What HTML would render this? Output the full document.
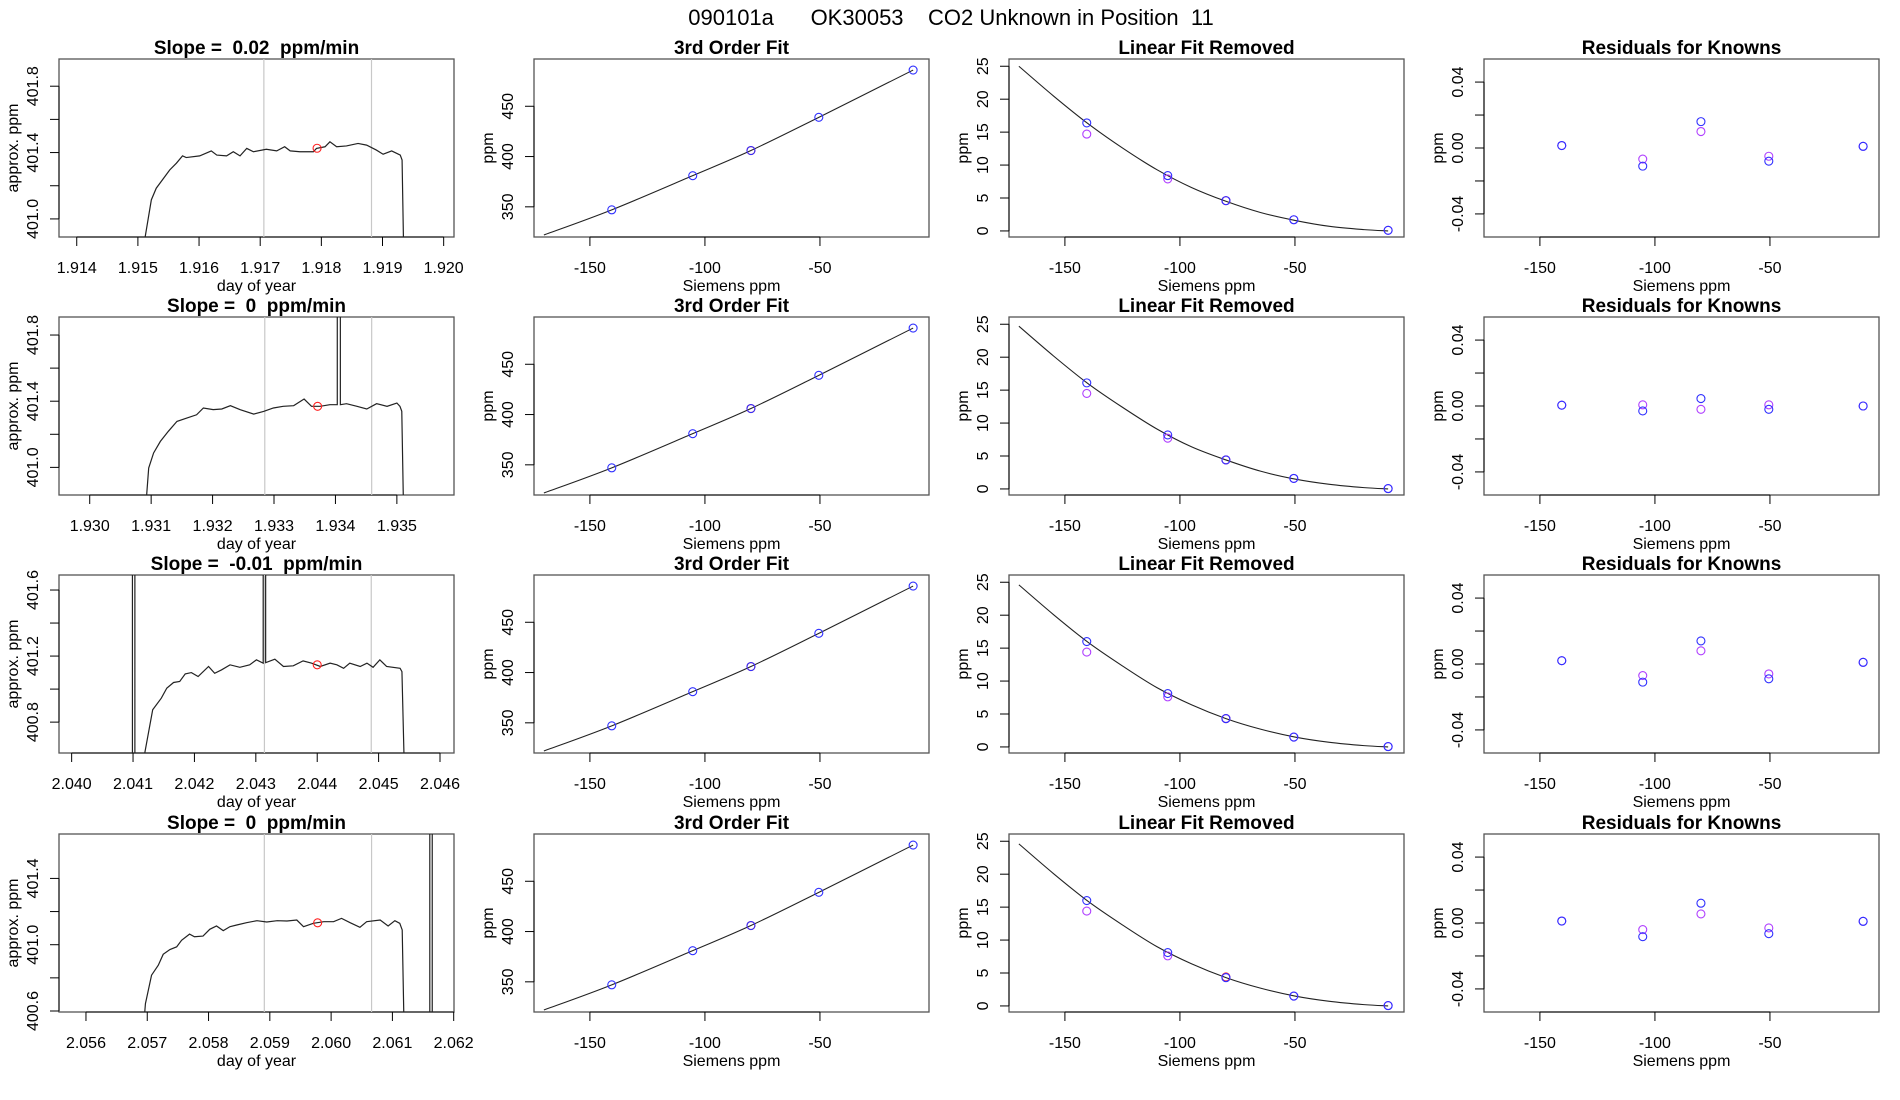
<!DOCTYPE html>
<html><head><meta charset="utf-8"><title>090101a OK30053 CO2 Unknown in Position 11</title>
<style>
html,body{margin:0;padding:0;background:#fff;}
svg{display:block;font-family:"Liberation Sans",Arial,sans-serif;}
text{white-space:pre;}
</style></head>
<body>
<svg id="fig" width="1900" height="1100" viewBox="0 0 1900 1100" xmlns="http://www.w3.org/2000/svg">
<text x="951" y="25" text-anchor="middle" font-size="22">090101a      OK30053    CO2 Unknown in Position  11</text>
</svg>
<script>
// ---------- data ----------
const slopeTitles = ["Slope =  0.02  ppm/min","Slope =  0  ppm/min","Slope =  -0.01  ppm/min","Slope =  0  ppm/min"];
const ts1Days = [1.91510,1.91522,1.91530,1.91552,1.91563,1.91573,1.91579,1.91601,1.91620,1.91629,1.91645,1.91656,1.91667,1.91678,1.91689,1.91710,1.91727,1.91740,1.91749,1.91765,1.91787,1.91792,1.91806,1.91814,1.91825,1.91841,1.91860,1.91874,1.91890,1.91901,1.91915,1.91929,1.91932,1.91936];
const ts1Ppm = [400.85,401.115,401.185,401.295,401.336,401.38,401.37,401.38,401.41,401.385,401.38,401.405,401.38,401.425,401.405,401.42,401.41,401.435,401.41,401.405,401.405,401.425,401.435,401.465,401.435,401.44,401.455,401.445,401.415,401.39,401.41,401.385,401.355,400.5];
const ts2Days = [1.93090,1.93096,1.93104,1.93115,1.93128,1.93142,1.93158,1.93174,1.93185,1.93201,1.93215,1.93229,1.93245,1.93267,1.93283,1.93299,1.93315,1.93332,1.93349,1.93361,1.93375,1.93391,1.93403,1.93403,1.93408,1.93408,1.93418,1.93435,1.93451,1.93467,1.93484,1.93500,1.93505,1.93508,1.93512];
const ts2Ppm = [400.7,400.996,401.087,401.157,401.218,401.278,401.298,401.318,401.359,401.349,401.353,401.373,401.349,401.322,401.338,401.359,401.369,401.373,401.413,401.369,401.369,401.379,401.379,402.5,402.5,401.379,401.385,401.369,401.353,401.385,401.369,401.389,401.369,401.339,400.5];
const ts3Days = [2.03979,2.04099,2.04099,2.04103,2.04103,2.04116,2.04132,2.04146,2.04155,2.04166,2.04176,2.04185,2.04195,2.04206,2.04223,2.04233,2.04244,2.04258,2.04274,2.04290,2.04301,2.04312,2.04312,2.04316,2.04316,2.04331,2.04345,2.04361,2.04377,2.04391,2.04405,2.04421,2.04432,2.04443,2.04453,2.04470,2.04481,2.04491,2.04502,2.04513,2.04535,2.04538,2.04542];
const ts3Ppm = [400.5,400.5,402.5,402.5,400.5,400.55,400.875,400.945,401.006,401.040,401.046,401.092,401.100,401.076,401.137,401.096,401.116,401.147,401.132,401.147,401.177,401.157,402.5,402.5,401.16,401.181,401.137,401.141,401.171,401.157,401.137,401.157,401.147,401.126,401.157,401.137,401.157,401.132,401.177,401.137,401.126,401.106,400.5];
const ts4Days = [2.05695,2.05697,2.05707,2.05718,2.05726,2.05737,2.05748,2.05756,2.05769,2.05777,2.05791,2.05802,2.05813,2.05824,2.05835,2.05846,2.05862,2.05879,2.05895,2.05912,2.05928,2.05944,2.05955,2.05971,2.05988,2.06004,2.06017,2.06031,2.06047,2.06058,2.06080,2.06093,2.06104,2.06112,2.06116,2.06119,2.06161,2.06161,2.06165,2.06165];
const ts4Ppm = [400.55,400.644,400.816,400.876,400.942,400.971,400.987,401.027,401.064,401.048,401.052,401.093,401.113,401.085,401.109,401.119,401.133,401.145,401.137,401.145,401.143,401.149,401.109,401.129,401.139,401.139,401.159,401.133,401.105,401.139,401.149,401.113,401.145,401.129,401.089,400.5,400.5,402.5,402.5,400.5];
const tsDays = [ts1Days,ts2Days,ts3Days,ts4Days];
const tsPpm = [ts1Ppm,ts2Ppm,ts3Ppm,ts4Ppm];
const unkDay = [1.91793,1.93371,2.04400,2.05978];
const unkPpm = [401.426,401.369,401.147,401.132];
const windowStart = [1.91706,1.93285,2.04314,2.05891];
const windowEnd = [1.91882,1.93459,2.04488,2.06066];
const tsXlim = [[1.91371,1.920169],[1.9295,1.93593],[2.039794,2.046228],[2.05556,2.062005]];
const tsYlim = [[400.891,401.964],[400.833,401.909],[400.613,401.691],[400.594,401.668]];
const tsXticks = [[1.914,1.915,1.916,1.917,1.918,1.919,1.920],[1.930,1.931,1.932,1.933,1.934,1.935],[2.040,2.041,2.042,2.043,2.044,2.045,2.046],[2.056,2.057,2.058,2.059,2.060,2.061,2.062]];
const tsYticks = [[401.0,401.2,401.4,401.6,401.8],[401.0,401.2,401.4,401.6,401.8],[400.8,401.0,401.2,401.4,401.6],[400.6,400.8,401.0,401.2,401.4]];
const tsYlabels = [["401.0","","401.4","","401.8"],["401.0","","401.4","","401.8"],["400.8","","401.2","","401.6"],["400.6","","401.0","","401.4"]];

const knownX = [-140.5,-105.3,-80,-50.5,-9.5];
const fitCurveX = [-170,-140.5,-105.3,-80,-50.5,-9.5];
const fitCurvePpm = [322,347,381,406,439,486];
const knownPpm = [347,381,406,439,486];
const unknownX = -80;
const unknownPpm = 406;
const linRemCurveX = [-170,-155,-140,-125,-110,-95,-80,-65,-50,-35,-20,-9.5];
const linRemCurveRows = [
 [25,20.5,16.3,12.6,9.3,6.6,4.5,2.8,1.6,0.7,0.2,0],
 [24.7,20.2,16.0,12.4,9.1,6.4,4.4,2.7,1.5,0.7,0.2,0],
 [24.6,20.1,15.9,12.3,9.0,6.4,4.3,2.7,1.5,0.7,0.2,0],
 [24.6,20.1,15.9,12.3,9.0,6.4,4.3,2.7,1.5,0.7,0.2,0]];
const linRemBlue = [[16.4,8.4,4.6,1.7,0.1],[16.1,8.2,4.4,1.6,0.05],[16.0,8.1,4.3,1.5,0.05],[16.0,8.1,4.3,1.5,0.05]];
const linRemPurple = [[14.7,7.9,4.6,1.7,0.1],[14.5,7.7,4.4,1.6,0.05],[14.4,7.6,4.3,1.5,0.05],[14.4,7.6,4.3,1.5,0.05]];
const linRemUnknown = [4.6,4.4,4.3,4.4];
const residBlue = [[0.0015,-0.011,0.016,-0.008,0.001],[0.0005,-0.003,0.0045,-0.002,0],[0.002,-0.011,0.014,-0.009,0.001],[0.0012,-0.0083,0.012,-0.0065,0.001]];
const residPurple = [[0.0015,-0.0067,0.010,-0.005,0.001],[0.0005,0.0007,-0.002,0.0007,0],[0.002,-0.007,0.008,-0.006,0.001],[0.0012,-0.004,0.0055,-0.003,0.001]];
const sieXlim = [-174.3,-2.6];
const sieXticks = [-150,-100,-50];
const fitYlim = [320,497];
const fitYticks = [350,400,450];
const remYlim = [-0.92,26.1];
const remYticks = [0,5,10,15,20,25];
const resYlim = [-0.054,0.054];
const resYticks = [-0.04,-0.02,0,0.02,0.04];
const resYlabels = ["-0.04","","0.00","","0.04"];

// ---------- layout ----------
const colX = [59,534,1009,1484];
const rowY = [59,317,575,834];
const PW = 395, PH = 178;
const NS = "http://www.w3.org/2000/svg";
const svg = document.getElementById('fig');
function mk(tag, attrs, parent){
  const e = document.createElementNS(NS, tag);
  for (const k in attrs) e.setAttribute(k, attrs[k]);
  (parent||svg).appendChild(e);
  return e;
}
function scale(d, r){ return v => r[0] + (v-d[0])/(d[1]-d[0])*(r[1]-r[0]); }
const BLUE="#3030ff", PURPLE="#b040ff", RED="#ff2020";

function panel(ci, ri, title, xlim, ylim, xticks, xlabs, yticks, ylabs, xtitle, ytitle, name){
  const x0=colX[ci], y0=rowY[ri];
  const g = mk('g',{});
  
  
  const sx = scale(xlim,[x0,x0+PW]);
  const sy = scale(ylim,[y0+PH,y0]);
  const cid = 'clip-'+ci+'-'+ri;
  const cp = mk('clipPath',{id:cid}, g);
  mk('rect',{x:x0,y:y0,width:PW,height:PH}, cp);
  const box = mk('rect',{x:x0,y:y0,width:PW,height:PH,fill:'none',stroke:'#555','stroke-width':1.3}, g);
  
  
  const t = mk('text',{x:x0+PW/2,y:y0-5,'text-anchor':'middle','font-size':19,'font-weight':'bold'}, g);
  t.textContent = title;
  
  
  const xa = mk('g',{}, g);
  
  
  const xs = sx(xticks[0]), xe = sx(xticks[xticks.length-1]);
  mk('line',{x1:xs,x2:xe,y1:y0+PH,y2:y0+PH,stroke:'#000'}, xa);
  xticks.forEach((v,i)=>{
    const X = sx(v);
    mk('line',{x1:X,x2:X,y1:y0+PH,y2:y0+PH+9,stroke:'#000'}, xa);
    const tl = mk('text',{x:X,y:y0+PH+36,'text-anchor':'middle','font-size':16}, xa);
    tl.textContent = xlabs[i];
    
    
  });
  const xt = mk('text',{x:x0+PW/2,y:y0+PH+54,'text-anchor':'middle','font-size':16}, g);
  xt.textContent = xtitle;
  
  
  const ya = mk('g',{}, g);
  
  
  mk('line',{x1:x0,x2:x0,y1:sy(yticks[0]),y2:sy(yticks[yticks.length-1]),stroke:'#000'}, ya);
  yticks.forEach((v,i)=>{
    const Y = sy(v);
    mk('line',{x1:x0,x2:x0-9,y1:Y,y2:Y,stroke:'#000'}, ya);
    if (ylabs[i]) {
      const tl = mk('text',{x:x0-21,y:Y,'text-anchor':'middle','font-size':16,transform:`rotate(-90 ${x0-21} ${Y})`}, ya);
      tl.textContent = ylabs[i];
      
      
    }
  });
  const yt = mk('text',{x:x0-41,y:y0+PH/2,'text-anchor':'middle','font-size':16,transform:`rotate(-90 ${x0-41} ${y0+PH/2})`}, g);
  yt.textContent = ytitle;
  
  
  const data = mk('g',{'clip-path':`url(#${cid})`}, g);
  return {sx, sy, data};
}
function circ(p, x, y, color, name){
  const c = mk('circle',{cx:x,cy:y,r:4,fill:'none',stroke:color,'stroke-width':1.1}, p);
  
  
}
function smoothPath(pts){
  let d = `M${pts[0][0]},${pts[0][1]}`;
  for (let i=0;i<pts.length-1;i++){
    const p0=pts[Math.max(0,i-1)], p1=pts[i], p2=pts[i+1], p3=pts[Math.min(pts.length-1,i+2)];
    const c1=[p1[0]+(p2[0]-p0[0])/6, p1[1]+(p2[1]-p0[1])/6];
    const c2=[p2[0]-(p3[0]-p1[0])/6, p2[1]-(p3[1]-p1[1])/6];
    d += ` C${c1[0]},${c1[1]} ${c2[0]},${c2[1]} ${p2[0]},${p2[1]}`;
  }
  return d;
}
const sieLabs = sieXticks.map(String);

for (let r=0;r<4;r++){
  const xl = tsXticks[r].map(v=>v.toFixed(3));
  const p1 = panel(0,r,slopeTitles[r],tsXlim[r],tsYlim[r],tsXticks[r],xl,tsYticks[r],tsYlabels[r],'day of year','approx. ppm','timeseries-panel-'+(r+1));
  [windowStart[r],windowEnd[r]].forEach(v=>{
    const l = mk('line',{x1:p1.sx(v),x2:p1.sx(v),y1:rowY[r],y2:rowY[r]+PH,stroke:'#c8c8c8','stroke-width':1.2}, p1.data);
    
    
  });
  const pts = tsDays[r].map((d,i)=>`${p1.sx(d).toFixed(2)},${p1.sy(tsPpm[r][i]).toFixed(2)}`).join(' ');
  const pl = mk('polyline',{points:pts,fill:'none',stroke:'#222','stroke-width':1.2}, p1.data);
  
  
  circ(p1.data, p1.sx(unkDay[r]), p1.sy(unkPpm[r]), RED, 'unknown-mean-point');

  const p2 = panel(1,r,'3rd Order Fit',sieXlim,fitYlim,sieXticks,sieLabs,fitYticks,fitYticks.map(String),'Siemens ppm','ppm','fit-panel-'+(r+1));
  const fp = mk('path',{d:smoothPath(fitCurveX.map((x,i)=>[p2.sx(x),p2.sy(fitCurvePpm[i])])),fill:'none',stroke:'#222','stroke-width':1.1}, p2.data);
  
  
  circ(p2.data,p2.sx(unknownX),p2.sy(unknownPpm),RED,'unknown-point');
  knownX.forEach((x,i)=>circ(p2.data,p2.sx(x),p2.sy(knownPpm[i]),BLUE,'known-standard-point'));

  const p3 = panel(2,r,'Linear Fit Removed',sieXlim,remYlim,sieXticks,sieLabs,remYticks,remYticks.map(String),'Siemens ppm','ppm','linear-removed-panel-'+(r+1));
  const lp = mk('path',{d:smoothPath(linRemCurveX.map((x,i)=>[p3.sx(x),p3.sy(linRemCurveRows[r][i])])),fill:'none',stroke:'#222','stroke-width':1.1}, p3.data);
  
  
  circ(p3.data,p3.sx(unknownX),p3.sy(linRemUnknown[r]),RED,'unknown-point');
  knownX.forEach((x,i)=>circ(p3.data,p3.sx(x),p3.sy(linRemPurple[r][i]),PURPLE,'measured-point'));
  knownX.forEach((x,i)=>circ(p3.data,p3.sx(x),p3.sy(linRemBlue[r][i]),BLUE,'known-standard-point'));

  const p4 = panel(3,r,'Residuals for Knowns',sieXlim,resYlim,sieXticks,sieLabs,resYticks,resYlabels,'Siemens ppm','ppm','residuals-panel-'+(r+1));
  knownX.forEach((x,i)=>circ(p4.data,p4.sx(x),p4.sy(residPurple[r][i]),PURPLE,'residual-point-fit2'));
  knownX.forEach((x,i)=>circ(p4.data,p4.sx(x),p4.sy(residBlue[r][i]),BLUE,'residual-point-fit1'));
}
</script>
</body></html>
